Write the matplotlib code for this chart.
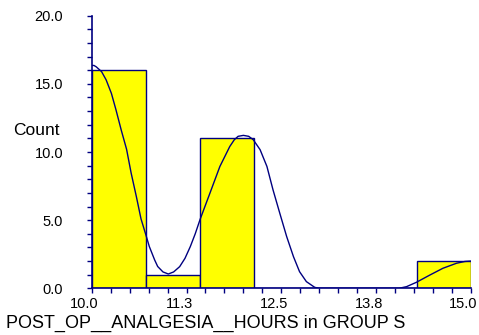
import matplotlib
matplotlib.use('Agg')
import matplotlib.pyplot as plt
import matplotlib.transforms as mtransforms
from matplotlib.ticker import FixedLocator, MultipleLocator

# histogram bins (7 equal bins from 10 to 15)
bin_edges = [10.0, 10.714, 11.429, 12.143, 12.857, 13.571, 14.286, 15.0]
counts = [16, 1, 11, 0, 0, 0, 2]

# smooth density curve
curve_x = [10.00, 10.03, 10.06, 10.13, 10.19, 10.26, 10.32, 10.39, 10.46, 10.52,
           10.59, 10.65, 10.71, 10.76, 10.83, 10.87, 10.94, 11.01, 11.08, 11.16,
           11.23, 11.30, 11.365, 11.43, 11.56, 11.69, 11.82, 11.88, 11.93, 12.00,
           12.07, 12.13, 12.22, 12.31, 12.39, 12.48, 12.57, 12.66, 12.74, 12.83,
           12.94, 13.00, 14.05, 14.15, 14.28, 14.46, 14.63, 14.81, 14.92, 15.00]
curve_y = [16.35, 16.35, 16.25, 15.9, 15.3, 14.3, 13.1, 11.6, 10.2, 8.46,
           6.7, 5.1, 4.0, 3.06, 2.08, 1.6, 1.2, 1.05, 1.2, 1.59,
           2.2, 3.06, 4.0, 5.07, 7.0, 8.94, 10.4, 10.9, 11.15, 11.22,
           11.15, 10.9, 10.17, 8.94, 7.23, 5.5, 3.8, 2.32, 1.22, 0.49,
           0.07, 0.0, 0.0, 0.12, 0.44, 0.98, 1.47, 1.84, 1.97, 2.0]

xtick_vals = [10.0, 11.25, 12.5, 13.75, 15.0]
xtick_labels = ['10.0', '11.3', '12.5', '13.8', '15.0']
ytick_vals = [0, 5, 10, 15, 20]
ytick_labels = ['0.0', '5.0', '10.0', '15.0', '20.0']

navy = '#000080'

plt.rcParams['font.family'] = ['Liberation Sans', 'DejaVu Sans']

fig = plt.figure(figsize=(4.79, 3.35), dpi=100)
ax = fig.add_axes([0.1914, 0.1394, 0.7919, 0.8137])

widths = [bin_edges[i + 1] - bin_edges[i] for i in range(len(counts))]
ax.bar(bin_edges[:-1], counts, width=widths, align='edge',
       color='#FFFF00', edgecolor=navy, linewidth=1.0, zorder=2)
ax.plot(curve_x, curve_y, color=navy, linewidth=1.0, zorder=3)

ax.set_xlim(10, 15)
ax.set_ylim(0, 20)

for s in ['top', 'right']:
    ax.spines[s].set_visible(False)
for s in ['left', 'bottom']:
    ax.spines[s].set_color(navy)
    ax.spines[s].set_linewidth(1.2)
    ax.spines[s].set_zorder(4)

ax.xaxis.set_major_locator(FixedLocator(xtick_vals))
ax.set_xticklabels(xtick_labels)
ax.xaxis.set_minor_locator(MultipleLocator(0.25))
ax.yaxis.set_major_locator(FixedLocator(ytick_vals))
ax.set_yticklabels(ytick_labels)
ax.yaxis.set_minor_locator(MultipleLocator(1))

ax.tick_params(axis='both', which='both', color=navy, length=3.6, width=1.0,
               labelsize=10.5, labelcolor='black')
ax.tick_params(axis='y', which='major', pad=17)
ax.tick_params(axis='x', which='major', pad=3)

# x tick labels sit a little left of their ticks in the original
shift = mtransforms.ScaledTranslation(-7.5 / 100, 0, fig.dpi_scale_trans)
for lab in ax.get_xticklabels():
    lab.set_transform(lab.get_transform() + shift)

fig.text(0.0278, 0.597, 'Count', fontsize=12.5, ha='left', va='baseline')
fig.text(0.43, 0.0209, 'POST_OP__ANALGESIA__HOURS in GROUP S', fontsize=13,
         ha='center', va='baseline')

plt.savefig('out.png', dpi=100)
